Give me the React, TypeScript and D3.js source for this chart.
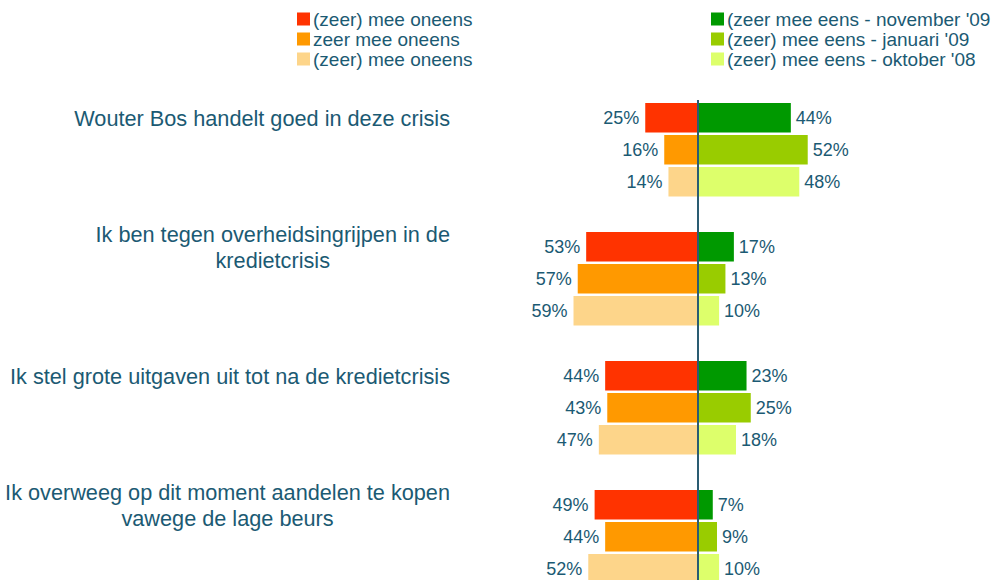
import React, { useEffect, useRef } from 'react';
import * as d3 from 'd3';

const statements: string[][] = [
  ['Wouter Bos handelt goed in deze crisis'],
  ['Ik ben tegen overheidsingrijpen in de', 'kredietcrisis'],
  ['Ik stel grote uitgaven uit tot na de kredietcrisis'],
  ['Ik overweeg op dit moment aandelen te kopen', 'vawege de lage beurs'],
];
const periods = ["november '09", "januari '09", "oktober '08"];
const disagree = [
  [25, 16, 14],
  [53, 57, 59],
  [44, 43, 47],
  [49, 44, 52],
];
const agree = [
  [44, 52, 48],
  [17, 13, 10],
  [23, 25, 18],
  [7, 9, 10],
];
const disagreeLegend = ['(zeer) mee oneens', 'zeer mee oneens', '(zeer) mee oneens'];
const agreeLegend = ["(zeer mee eens - november '09", "(zeer) mee eens - januari '09", "(zeer) mee eens - oktober '08"];
const disagreeColors = ['#FF3300', '#FF9900', '#FDD58A'];
const agreeColors = ['#009900', '#99CC00', '#DDFF6B'];

const TEXT = '#1B5A73';
const FONT = '"Liberation Sans", Arial, sans-serif';

export default function App() {
  const ref = useRef<SVGSVGElement | null>(null);

  useEffect(() => {
    const svg = d3.select(ref.current);
    svg.selectAll('*').remove();

    const cx = 698;
    const x = d3.scaleLinear().domain([-100, 100]).range([cx - 211, cx + 211]);
    const ids = statements.map((_, i) => String(i));
    const y0 = d3.scaleBand().domain(ids).range([103, 103 + 129 * 4]).paddingInner(0);
    const y1 = d3.scaleBand().domain(periods).range([0, 93.5]).paddingInner(0.078);
    const bw = y1.bandwidth();

    const groups = svg
      .selectAll('g.grp')
      .data(statements)
      .join('g')
      .attr('class', 'grp')
      .attr('transform', (_, i) => `translate(0,${y0(String(i))})`);

    groups.each(function (lines, gi) {
      const g = d3.select(this);
      periods.forEach((p, j) => {
        const yy = y1(p)!;
        const dv = disagree[gi][j];
        const av = agree[gi][j];
        g.append('rect')
          .attr('x', x(-dv))
          .attr('y', yy)
          .attr('width', x(0) - x(-dv))
          .attr('height', bw)
          .attr('fill', disagreeColors[j]);
        g.append('rect')
          .attr('x', x(0))
          .attr('y', yy)
          .attr('width', x(av) - x(0))
          .attr('height', bw)
          .attr('fill', agreeColors[j]);
        g.append('text')
          .attr('x', x(-dv) - 6)
          .attr('y', yy + bw / 2)
          .attr('dy', '0.36em')
          .attr('text-anchor', 'end')
          .attr('font-size', 18)
          .attr('font-family', FONT)
          .attr('fill', TEXT)
          .text(`${dv}%`);
        g.append('text')
          .attr('x', x(av) + 5)
          .attr('y', yy + bw / 2)
          .attr('dy', '0.36em')
          .attr('text-anchor', 'start')
          .attr('font-size', 18)
          .attr('font-family', FONT)
          .attr('fill', TEXT)
          .text(`${av}%`);
      });

      // category label
      const firstCenter = y1(periods[0])! + bw / 2;
      const lh = 26;
      const startY = firstCenter - ((lines.length - 1) * lh) / 2;
      const texts = lines.map((l, li) =>
        g
          .append('text')
          .attr('y', startY + li * lh)
          .attr('dy', '0.36em')
          .attr('text-anchor', 'middle')
          .attr('font-size', 21.7)
          .attr('font-family', FONT)
          .attr('fill', TEXT)
          .text(l)
      );
      const widths = texts.map((t) => (t.node() as SVGTextElement).getComputedTextLength());
      const maxW = Math.max(...widths);
      const right = 450;
      texts.forEach((t) => t.attr('x', right - maxW / 2));
    });

    // center axis line
    svg
      .append('line')
      .attr('x1', x(0))
      .attr('x2', x(0))
      .attr('y1', 100)
      .attr('y2', 580)
      .attr('stroke', '#2A5C72')
      .attr('stroke-width', 2);

    // legend
    const legendCols = [
      { labels: disagreeLegend, colors: disagreeColors, x: 297 },
      { labels: agreeLegend, colors: agreeColors, x: 711 },
    ];
    legendCols.forEach((col) => {
      col.labels.forEach((lab, i) => {
        const cy = 19 + i * 20;
        svg
          .append('rect')
          .attr('x', col.x)
          .attr('y', cy - 6.5)
          .attr('width', 13)
          .attr('height', 13)
          .attr('fill', col.colors[i]);
        svg
          .append('text')
          .attr('x', col.x + 16)
          .attr('y', cy)
          .attr('dy', '0.36em')
          .attr('font-size', 19)
          .attr('font-family', FONT)
          .attr('fill', TEXT)
          .text(lab);
      });
    });
  }, []);

  return (
    <svg
      ref={ref}
      width={994}
      height={580}
      style={{ position: 'absolute', left: 0, top: 0, background: '#fff' }}
    />
  );
}
